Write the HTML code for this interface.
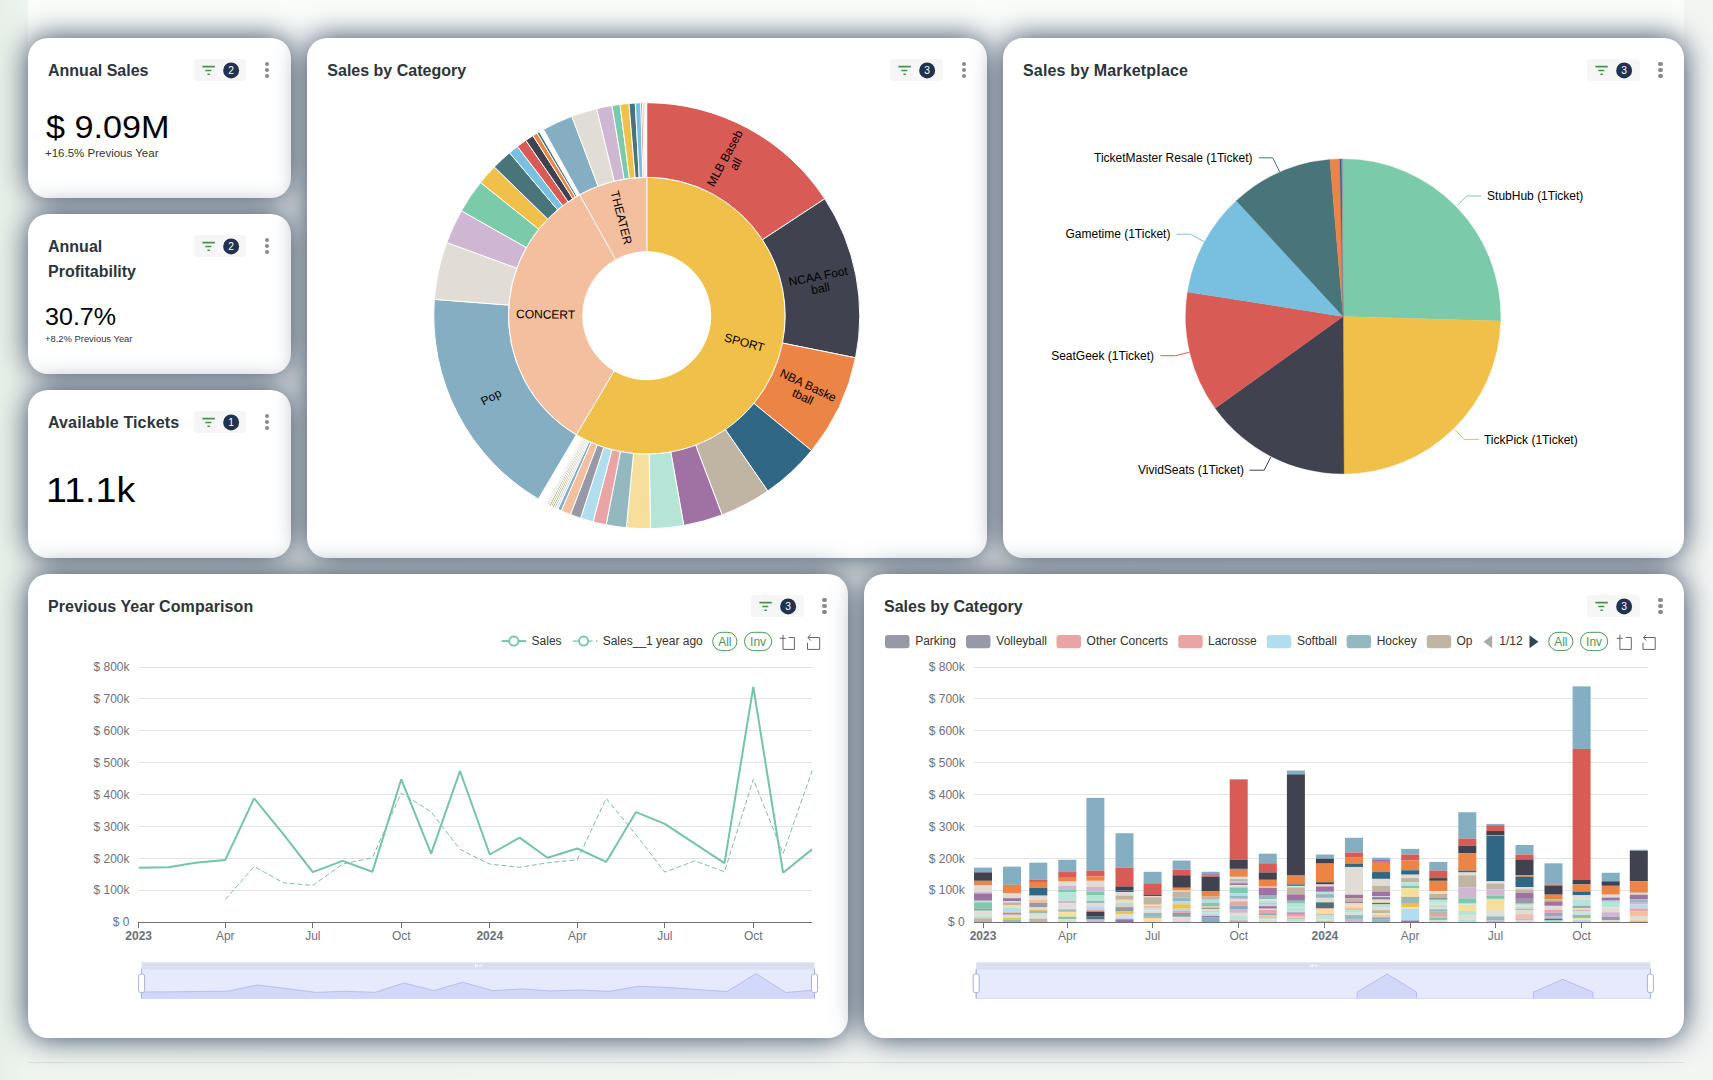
<!DOCTYPE html>
<html lang="en"><head><meta charset="utf-8"><title>Ticket Sales Dashboard</title>
<style>
*{box-sizing:border-box;margin:0;padding:0}
html,body{width:1713px;height:1080px;overflow:hidden}
body{position:relative;font-family:"Liberation Sans",sans-serif;color:#2a2f35;
 background:linear-gradient(90deg,#e7f0e8 0px,#eff4ef 28px,#f2f5f2 800px,#f3f5f3 1684px,#f3f5f3 100%);}
#wrap{position:absolute;left:28px;top:0;width:1656px;height:1063px;border-bottom:1px solid #dde2dd}
#topband{position:absolute;left:0;top:0;width:1656px;height:80px;background:linear-gradient(180deg,#fafcfa 0,#fafcfa 36px,rgba(250,252,250,0) 80px)}
.card{position:absolute;background:#fff;border-radius:20px;
 box-shadow:0 0 30px #30415a;}
.ttl{position:absolute;left:20px;top:20.3px;font-weight:700;font-size:16px;line-height:25px;color:#2e343b;white-space:nowrap;transform-origin:0 50%}
.badge{position:absolute;right:44.5px;top:20.6px;width:52.5px;height:22.7px;border-radius:4px;background:#f6f6f6}
.badge svg{position:absolute;left:0;top:0}
.dots{position:absolute;right:21.4px;top:24px;width:4.2px;height:17px}
.dots i{position:absolute;left:0;width:4.2px;height:4.2px;border-radius:50%;background:#8a8a8a}
.big{position:absolute;color:#000;white-space:nowrap;transform-origin:0 100%}
.sub{position:absolute;color:#333;white-space:nowrap;transform-origin:0 100%}
svg text{font-family:"Liberation Sans",sans-serif}
svg.chart{position:absolute;left:0;top:0;overflow:visible}
</style></head>
<body><div id="wrap"><div id="topband"></div>
<div class="card" id="c1" style="left:0.00px;top:38px;width:262.67px;height:159.5px"><div class="ttl" style="">Annual Sales</div><div class="badge"><svg width="53" height="23" viewBox="0 0 52.5 22.7">
<g stroke="#419546" stroke-width="1.6" stroke-linecap="butt"><path d="M8.3 7.5H20.6M11.2 11.3H17.1M13.3 15.1H15.7"/></g>
<circle cx="36.8" cy="11.3" r="7.9" fill="#1f3350"/>
<text x="36.8" y="14.9" font-size="10.2" fill="#fff" text-anchor="middle">2</text></svg></div>
<div class="dots"><i style="top:0"></i><i style="top:6px"></i><i style="top:12px"></i></div><div class="big" id="b1" style="left:17.5px;top:71.6px;font-size:31px;line-height:36px;transform:scaleX(1.103)">$ 9.09M</div><div class="sub" id="s1" style="left:17px;top:108px;font-size:10.5px;line-height:14px;transform:scaleX(1.095)">+16.5% Previous Year</div></div>
<div class="card" id="c2" style="left:0.00px;top:214px;width:262.67px;height:159.7px"><div class="ttl" style="">Annual<br>Profitability</div><div class="badge"><svg width="53" height="23" viewBox="0 0 52.5 22.7">
<g stroke="#419546" stroke-width="1.6" stroke-linecap="butt"><path d="M8.3 7.5H20.6M11.2 11.3H17.1M13.3 15.1H15.7"/></g>
<circle cx="36.8" cy="11.3" r="7.9" fill="#1f3350"/>
<text x="36.8" y="14.9" font-size="10.2" fill="#fff" text-anchor="middle">2</text></svg></div>
<div class="dots"><i style="top:0"></i><i style="top:6px"></i><i style="top:12px"></i></div><div class="big" id="b2" style="left:17px;top:87.7px;font-size:23px;line-height:30px;transform:scaleX(1.09)">30.7%</div><div class="sub" id="s2" style="left:16.5px;top:119px;font-size:8.5px;line-height:12px;transform:scaleX(1.105)">+8.2% Previous Year</div></div>
<div class="card" id="c3" style="left:0.00px;top:390px;width:262.67px;height:167.5px"><div class="ttl" style="letter-spacing:.13px">Available Tickets</div><div class="badge"><svg width="53" height="23" viewBox="0 0 52.5 22.7">
<g stroke="#419546" stroke-width="1.6" stroke-linecap="butt"><path d="M8.3 7.5H20.6M11.2 11.3H17.1M13.3 15.1H15.7"/></g>
<circle cx="36.8" cy="11.3" r="7.9" fill="#1f3350"/>
<text x="36.8" y="14.9" font-size="10.2" fill="#fff" text-anchor="middle">1</text></svg></div>
<div class="dots"><i style="top:0"></i><i style="top:6px"></i><i style="top:12px"></i></div><div class="big" id="b3" style="left:18px;top:79.6px;font-size:35px;line-height:40px;transform:scaleX(1.075)">11.1k</div></div>
<div class="card" id="c4" style="left:279.33px;top:38px;width:680px;height:519.5px"><div class="ttl" style="">Sales by Category</div><div class="badge"><svg width="53" height="23" viewBox="0 0 52.5 22.7">
<g stroke="#419546" stroke-width="1.6" stroke-linecap="butt"><path d="M8.3 7.5H20.6M11.2 11.3H17.1M13.3 15.1H15.7"/></g>
<circle cx="36.8" cy="11.3" r="7.9" fill="#1f3350"/>
<text x="36.8" y="14.9" font-size="10.2" fill="#fff" text-anchor="middle">3</text></svg></div>
<div class="dots"><i style="top:0"></i><i style="top:6px"></i><i style="top:12px"></i></div><svg class="chart" width="680" height="519.5" viewBox="0 0 680 519.5"><path d="M339.77 139.30A138.4 138.4 0 1 1 269.32 396.83L307.19 332.79A64.0 64.0 0 1 0 339.77 213.70Z" fill="#f0c049" stroke="#fff" stroke-width="1"/>
<path d="M269.32 396.83A138.4 138.4 0 0 1 272.67 156.65L308.74 221.72A64.0 64.0 0 0 0 307.19 332.79Z" fill="#f4bf9e" stroke="#fff" stroke-width="1"/>
<path d="M272.67 156.65A138.4 138.4 0 0 1 339.77 139.30L339.77 213.70A64.0 64.0 0 0 0 308.74 221.72Z" fill="#f4bf9e" stroke="#fff" stroke-width="1"/>
<path d="M339.77 64.70A213.0 213.0 0 0 1 517.80 160.76L455.45 201.72A138.4 138.4 0 0 0 339.77 139.30Z" fill="#d95b55" stroke="#fff" stroke-width="1"/>
<path d="M517.80 160.76A213.0 213.0 0 0 1 548.57 319.80L475.44 305.06A138.4 138.4 0 0 0 455.45 201.72Z" fill="#40424f" stroke="#fff" stroke-width="1"/>
<path d="M548.57 319.80A213.0 213.0 0 0 1 504.60 412.61L446.87 365.36A138.4 138.4 0 0 0 475.44 305.06Z" fill="#eb8445" stroke="#fff" stroke-width="1"/>
<path d="M504.60 412.61A213.0 213.0 0 0 1 460.72 453.03L418.36 391.62A138.4 138.4 0 0 0 446.87 365.36Z" fill="#2f6785" stroke="#fff" stroke-width="1"/>
<path d="M460.72 453.03A213.0 213.0 0 0 1 415.06 476.95L388.69 407.17A138.4 138.4 0 0 0 418.36 391.62Z" fill="#c0b5a3" stroke="#fff" stroke-width="1"/>
<path d="M415.06 476.95A213.0 213.0 0 0 1 376.76 487.46L363.80 414.00A138.4 138.4 0 0 0 388.69 407.17Z" fill="#a072a4" stroke="#fff" stroke-width="1"/>
<path d="M376.76 487.46A213.0 213.0 0 0 1 343.49 490.67L342.19 416.08A138.4 138.4 0 0 0 363.80 414.00Z" fill="#b5e5d7" stroke="#fff" stroke-width="1"/>
<path d="M343.49 490.67A213.0 213.0 0 0 1 319.35 489.72L326.50 415.46A138.4 138.4 0 0 0 342.19 416.08Z" fill="#f6df9d" stroke="#fff" stroke-width="1"/>
<path d="M319.35 489.72A213.0 213.0 0 0 1 299.13 486.79L313.36 413.56A138.4 138.4 0 0 0 326.50 415.46Z" fill="#94b8bf" stroke="#fff" stroke-width="1"/>
<path d="M299.13 486.79A213.0 213.0 0 0 1 286.08 483.82L304.88 411.63A138.4 138.4 0 0 0 313.36 413.56Z" fill="#e9a4a5" stroke="#fff" stroke-width="1"/>
<path d="M286.08 483.82A213.0 213.0 0 0 1 273.60 480.16L296.77 409.25A138.4 138.4 0 0 0 304.88 411.63Z" fill="#b1deee" stroke="#fff" stroke-width="1"/>
<path d="M273.60 480.16A213.0 213.0 0 0 1 263.44 476.55L290.17 406.91A138.4 138.4 0 0 0 296.77 409.25Z" fill="#979aa6" stroke="#fff" stroke-width="1"/>
<path d="M263.44 476.55A213.0 213.0 0 0 1 254.16 472.74L284.14 404.43A138.4 138.4 0 0 0 290.17 406.91Z" fill="#f4bf9e" stroke="#fff" stroke-width="1"/>
<path d="M254.16 472.74A213.0 213.0 0 0 1 250.76 471.21L281.94 403.44A138.4 138.4 0 0 0 284.14 404.43Z" fill="#84aec1" stroke="#fff" stroke-width="1"/>
<path d="M250.76 471.21A213.0 213.0 0 0 1 248.74 470.27L280.62 402.83A138.4 138.4 0 0 0 281.94 403.44Z" fill="#e1ddd5" stroke="#fff" stroke-width="1"/>
<path d="M248.74 470.27A213.0 213.0 0 0 1 247.07 469.47L279.53 402.30A138.4 138.4 0 0 0 280.62 402.83Z" fill="#cfb6d2" stroke="#fff" stroke-width="1"/>
<path d="M247.07 469.47A213.0 213.0 0 0 1 245.40 468.65L278.45 401.77A138.4 138.4 0 0 0 279.53 402.30Z" fill="#7bcbab" stroke="#fff" stroke-width="1"/>
<path d="M245.40 468.65A213.0 213.0 0 0 1 243.73 467.82L277.37 401.23A138.4 138.4 0 0 0 278.45 401.77Z" fill="#f0c049" stroke="#fff" stroke-width="1"/>
<path d="M243.73 467.82A213.0 213.0 0 0 1 242.41 467.15L276.51 400.80A138.4 138.4 0 0 0 277.37 401.23Z" fill="#487579" stroke="#fff" stroke-width="1"/>
<path d="M242.41 467.15A213.0 213.0 0 0 1 241.42 466.63L275.86 400.46A138.4 138.4 0 0 0 276.51 400.80Z" fill="#79bfdf" stroke="#fff" stroke-width="1"/>
<path d="M241.42 466.63A213.0 213.0 0 0 1 240.43 466.12L275.22 400.13A138.4 138.4 0 0 0 275.86 400.46Z" fill="#d95b55" stroke="#fff" stroke-width="1"/>
<path d="M240.43 466.12A213.0 213.0 0 0 1 239.77 465.77L274.80 399.90A138.4 138.4 0 0 0 275.22 400.13Z" fill="#40424f" stroke="#fff" stroke-width="1"/>
<path d="M239.77 465.77A213.0 213.0 0 0 1 239.12 465.42L274.37 399.67A138.4 138.4 0 0 0 274.80 399.90Z" fill="#eb8445" stroke="#fff" stroke-width="1"/>
<path d="M231.34 461.04A213.0 213.0 0 0 1 127.40 261.36L201.78 267.08A138.4 138.4 0 0 0 269.32 396.83Z" fill="#84aec1" stroke="#fff" stroke-width="1"/>
<path d="M127.40 261.36A213.0 213.0 0 0 1 139.74 204.50L209.80 230.14A138.4 138.4 0 0 0 201.78 267.08Z" fill="#e1ddd5" stroke="#fff" stroke-width="1"/>
<path d="M139.74 204.50A213.0 213.0 0 0 1 154.38 172.81L219.31 209.55A138.4 138.4 0 0 0 209.80 230.14Z" fill="#cfb6d2" stroke="#fff" stroke-width="1"/>
<path d="M154.38 172.81A213.0 213.0 0 0 1 173.54 144.52L231.76 191.17A138.4 138.4 0 0 0 219.31 209.55Z" fill="#7bcbab" stroke="#fff" stroke-width="1"/>
<path d="M173.54 144.52A213.0 213.0 0 0 1 187.33 128.94L240.72 181.04A138.4 138.4 0 0 0 231.76 191.17Z" fill="#f0c049" stroke="#fff" stroke-width="1"/>
<path d="M187.33 128.94A213.0 213.0 0 0 1 202.57 114.77L250.62 171.83A138.4 138.4 0 0 0 240.72 181.04Z" fill="#487579" stroke="#fff" stroke-width="1"/>
<path d="M202.57 114.77A213.0 213.0 0 0 1 210.40 108.49L255.71 167.75A138.4 138.4 0 0 0 250.62 171.83Z" fill="#79bfdf" stroke="#fff" stroke-width="1"/>
<path d="M210.40 108.49A213.0 213.0 0 0 1 218.82 102.37L261.18 163.78A138.4 138.4 0 0 0 255.71 167.75Z" fill="#d95b55" stroke="#fff" stroke-width="1"/>
<path d="M218.82 102.37A213.0 213.0 0 0 1 225.95 97.66L265.82 160.72A138.4 138.4 0 0 0 261.18 163.78Z" fill="#40424f" stroke="#fff" stroke-width="1"/>
<path d="M225.95 97.66A213.0 213.0 0 0 1 230.07 95.12L268.49 159.07A138.4 138.4 0 0 0 265.82 160.72Z" fill="#eb8445" stroke="#fff" stroke-width="1"/>
<path d="M230.07 95.12A213.0 213.0 0 0 1 232.31 93.80L269.94 158.21A138.4 138.4 0 0 0 268.49 159.07Z" fill="#487579" stroke="#fff" stroke-width="1"/>
<path d="M236.51 91.41A213.0 213.0 0 0 1 264.83 78.32L291.08 148.15A138.4 138.4 0 0 0 272.67 156.65Z" fill="#84aec1" stroke="#fff" stroke-width="1"/>
<path d="M264.83 78.32A213.0 213.0 0 0 1 289.68 70.67L307.23 143.18A138.4 138.4 0 0 0 291.08 148.15Z" fill="#e1ddd5" stroke="#fff" stroke-width="1"/>
<path d="M289.68 70.67A213.0 213.0 0 0 1 304.98 67.56L317.17 141.16A138.4 138.4 0 0 0 307.23 143.18Z" fill="#cfb6d2" stroke="#fff" stroke-width="1"/>
<path d="M304.98 67.56A213.0 213.0 0 0 1 313.07 66.38L322.42 140.39A138.4 138.4 0 0 0 317.17 141.16Z" fill="#7bcbab" stroke="#fff" stroke-width="1"/>
<path d="M313.07 66.38A213.0 213.0 0 0 1 321.95 65.45L328.19 139.79A138.4 138.4 0 0 0 322.42 140.39Z" fill="#f0c049" stroke="#fff" stroke-width="1"/>
<path d="M321.95 65.45A213.0 213.0 0 0 1 328.25 65.01L332.29 139.50A138.4 138.4 0 0 0 328.19 139.79Z" fill="#487579" stroke="#fff" stroke-width="1"/>
<path d="M328.25 65.01A213.0 213.0 0 0 1 333.82 64.78L335.91 139.35A138.4 138.4 0 0 0 332.29 139.50Z" fill="#79bfdf" stroke="#fff" stroke-width="1"/>
<path d="M333.82 64.78A213.0 213.0 0 0 1 335.68 64.74L337.11 139.33A138.4 138.4 0 0 0 335.91 139.35Z" fill="#d95b55" stroke="#fff" stroke-width="1"/>
<path d="M335.68 64.74A213.0 213.0 0 0 1 337.17 64.72L338.08 139.31A138.4 138.4 0 0 0 337.11 139.33Z" fill="#e9a4a5" stroke="#fff" stroke-width="1"/>
<path d="M337.17 64.72A213.0 213.0 0 0 1 338.28 64.71L338.80 139.30A138.4 138.4 0 0 0 338.08 139.31Z" fill="#eb8445" stroke="#fff" stroke-width="1"/>
<g transform="translate(437.38 304.40) rotate(15.30)"><text x="0" y="4.20" font-size="12" text-anchor="middle" fill="#000">SPORT</text></g>
<g transform="translate(238.58 276.29) rotate(0.80)"><text x="0" y="4.20" font-size="12" text-anchor="middle" fill="#000">CONCERT</text></g>
<g transform="translate(314.43 179.72) rotate(75.50)"><text x="0" y="4.20" font-size="12" text-anchor="middle" fill="#000">THEATER</text></g>
<g transform="translate(423.20 123.07) rotate(-61.65)"><text x="0" y="-2.05" font-size="12" text-anchor="middle" fill="#000">MLB Baseb</text><text x="0" y="10.45" font-size="12" text-anchor="middle" fill="#000">all</text></g>
<g transform="translate(512.27 244.33) rotate(-10.95)"><text x="0" y="-2.05" font-size="12" text-anchor="middle" fill="#000">NCAA Foot</text><text x="0" y="10.45" font-size="12" text-anchor="middle" fill="#000">ball</text></g>
<g transform="translate(498.55 352.93) rotate(25.35)"><text x="0" y="-2.05" font-size="12" text-anchor="middle" fill="#000">NBA Baske</text><text x="0" y="10.45" font-size="12" text-anchor="middle" fill="#000">tball</text></g>
<g transform="translate(183.99 358.97) rotate(-27.55)"><text x="0" y="4.20" font-size="12" text-anchor="middle" fill="#000">Pop</text></g></svg></div>
<div class="card" id="c5" style="left:975.00px;top:38px;width:681px;height:519.5px"><div class="ttl" style="letter-spacing:.16px">Sales by Marketplace</div><div class="badge"><svg width="53" height="23" viewBox="0 0 52.5 22.7">
<g stroke="#419546" stroke-width="1.6" stroke-linecap="butt"><path d="M8.3 7.5H20.6M11.2 11.3H17.1M13.3 15.1H15.7"/></g>
<circle cx="36.8" cy="11.3" r="7.9" fill="#1f3350"/>
<text x="36.8" y="14.9" font-size="10.2" fill="#fff" text-anchor="middle">3</text></svg></div>
<div class="dots"><i style="top:0"></i><i style="top:6px"></i><i style="top:12px"></i></div><svg class="chart" width="681" height="519.5" viewBox="0 0 681 519.5"><path d="M340.10 278.40L340.10 120.95A157.45 157.45 0 0 1 497.48 283.07Z" fill="#7bcbab" stroke="#7bcbab" stroke-width="0.3"/>
<path d="M340.10 278.40L497.48 283.07A157.45 157.45 0 0 1 340.92 435.85Z" fill="#f0c049" stroke="#f0c049" stroke-width="0.3"/>
<path d="M340.10 278.40L340.92 435.85A157.45 157.45 0 0 1 212.24 370.28Z" fill="#40424f" stroke="#40424f" stroke-width="0.3"/>
<path d="M340.10 278.40L212.24 370.28A157.45 157.45 0 0 1 184.55 254.04Z" fill="#d95b55" stroke="#d95b55" stroke-width="0.3"/>
<path d="M340.10 278.40L184.55 254.04A157.45 157.45 0 0 1 233.32 162.69Z" fill="#79bfdf" stroke="#79bfdf" stroke-width="0.3"/>
<path d="M340.10 278.40L233.32 162.69A157.45 157.45 0 0 1 326.92 121.50Z" fill="#487579" stroke="#487579" stroke-width="0.3"/>
<path d="M340.10 278.40L326.92 121.50A157.45 157.45 0 0 1 336.80 120.98Z" fill="#eb8445" stroke="#eb8445" stroke-width="0.3"/>
<path d="M340.10 278.40L336.80 120.98A157.45 157.45 0 0 1 338.73 120.96Z" fill="#2f6785" stroke="#2f6785" stroke-width="0.3"/>
<path d="M340.10 278.40L338.73 120.96A157.45 157.45 0 0 1 340.10 120.95Z" fill="#979aa6" stroke="#979aa6" stroke-width="0.3"/>
<path d="M454.0 167.7L463.7 158.0L478.3 158.0" fill="none" stroke="#7bcbab" stroke-width="1"/>
<text x="484.1" y="162.2" font-size="12" text-anchor="start" fill="#000">StubHub (1Ticket)</text>
<path d="M451.7 391.3L461.1 401.4L476.0 401.4" fill="none" stroke="#f0c049" stroke-width="1"/>
<text x="480.9" y="405.6" font-size="12" text-anchor="start" fill="#000">TickPick (1Ticket)</text>
<path d="M267.7 419.2L261.2 432.2L246.6 432.2" fill="none" stroke="#40424f" stroke-width="1"/>
<text x="241.1" y="436.4" font-size="12" text-anchor="end" fill="#000">VividSeats (1Ticket)</text>
<path d="M186.3 314.3L172.4 317.7L157.4 317.7" fill="none" stroke="#d95b55" stroke-width="1"/>
<text x="151.1" y="321.9" font-size="12" text-anchor="end" fill="#000">SeatGeek (1Ticket)</text>
<path d="M201.4 203.8L187.5 196.2L173.6 196.2" fill="none" stroke="#79bfdf" stroke-width="1"/>
<text x="167.4" y="200.4" font-size="12" text-anchor="end" fill="#000">Gametime (1Ticket)</text>
<path d="M276.6 133.7L269.7 119.8L255.8 119.8" fill="none" stroke="#487579" stroke-width="1"/>
<text x="249.5" y="124.0" font-size="12" text-anchor="end" fill="#000">TicketMaster Resale (1Ticket)</text></svg></div>
<div class="card" id="c6" style="left:0.00px;top:574px;width:820px;height:464px"><div class="ttl" style="letter-spacing:.08px">Previous Year Comparison</div><div class="badge"><svg width="53" height="23" viewBox="0 0 52.5 22.7">
<g stroke="#419546" stroke-width="1.6" stroke-linecap="butt"><path d="M8.3 7.5H20.6M11.2 11.3H17.1M13.3 15.1H15.7"/></g>
<circle cx="36.8" cy="11.3" r="7.9" fill="#1f3350"/>
<text x="36.8" y="14.9" font-size="10.2" fill="#fff" text-anchor="middle">3</text></svg></div>
<div class="dots"><i style="top:0"></i><i style="top:6px"></i><i style="top:12px"></i></div><svg class="chart" width="820" height="464" viewBox="0 0 820 464"><text x="101.5" y="352.30" font-size="12" text-anchor="end" fill="#6e7079">$ 0</text>
<path d="M110.7 316.50H784.0" stroke="#e1e3e8" stroke-width="1"/>
<text x="101.5" y="320.43" font-size="12" text-anchor="end" fill="#6e7079">$ 100k</text>
<path d="M110.7 284.50H784.0" stroke="#e1e3e8" stroke-width="1"/>
<text x="101.5" y="288.55" font-size="12" text-anchor="end" fill="#6e7079">$ 200k</text>
<path d="M110.7 252.50H784.0" stroke="#e1e3e8" stroke-width="1"/>
<text x="101.5" y="256.68" font-size="12" text-anchor="end" fill="#6e7079">$ 300k</text>
<path d="M110.7 220.50H784.0" stroke="#e1e3e8" stroke-width="1"/>
<text x="101.5" y="224.80" font-size="12" text-anchor="end" fill="#6e7079">$ 400k</text>
<path d="M110.7 188.50H784.0" stroke="#e1e3e8" stroke-width="1"/>
<text x="101.5" y="192.93" font-size="12" text-anchor="end" fill="#6e7079">$ 500k</text>
<path d="M110.7 156.50H784.0" stroke="#e1e3e8" stroke-width="1"/>
<text x="101.5" y="161.05" font-size="12" text-anchor="end" fill="#6e7079">$ 600k</text>
<path d="M110.7 124.50H784.0" stroke="#e1e3e8" stroke-width="1"/>
<text x="101.5" y="129.18" font-size="12" text-anchor="end" fill="#6e7079">$ 700k</text>
<path d="M110.7 93.50H784.0" stroke="#e1e3e8" stroke-width="1"/>
<text x="101.5" y="97.30" font-size="12" text-anchor="end" fill="#6e7079">$ 800k</text>
<path d="M110.0 348.50H784.0" stroke="#6e7079" stroke-width="1"/>
<path d="M110.50 348.50v5.5" stroke="#6e7079" stroke-width="1"/>
<text x="110.70" y="366.40" font-size="12" text-anchor="middle" fill="#6e7079" font-weight="700">2023</text>
<path d="M197.50 348.50v5.5" stroke="#6e7079" stroke-width="1"/>
<text x="197.27" y="366.40" font-size="12" text-anchor="middle" fill="#6e7079">Apr</text>
<path d="M284.50 348.50v5.5" stroke="#6e7079" stroke-width="1"/>
<text x="284.80" y="366.40" font-size="12" text-anchor="middle" fill="#6e7079">Jul</text>
<path d="M373.50 348.50v5.5" stroke="#6e7079" stroke-width="1"/>
<text x="373.29" y="366.40" font-size="12" text-anchor="middle" fill="#6e7079">Oct</text>
<path d="M461.50 348.50v5.5" stroke="#6e7079" stroke-width="1"/>
<text x="461.78" y="366.40" font-size="12" text-anchor="middle" fill="#6e7079" font-weight="700">2024</text>
<path d="M549.50 348.50v5.5" stroke="#6e7079" stroke-width="1"/>
<text x="549.31" y="366.40" font-size="12" text-anchor="middle" fill="#6e7079">Apr</text>
<path d="M636.50 348.50v5.5" stroke="#6e7079" stroke-width="1"/>
<text x="636.84" y="366.40" font-size="12" text-anchor="middle" fill="#6e7079">Jul</text>
<path d="M725.50 348.50v5.5" stroke="#6e7079" stroke-width="1"/>
<text x="725.33" y="366.40" font-size="12" text-anchor="middle" fill="#6e7079">Oct</text>
<path d="M197.3 325.5L226.1 292.6L255.9 308.9L284.8 311.4L314.6 290.1L344.4 283.7L373.3 219.0L403.1 237.8L432.0 275.4L461.8 290.1L491.6 293.3L519.5 288.8L549.3 285.9L578.2 224.4L608.0 260.8L636.8 298.1L666.7 286.9L696.5 297.7L725.3 205.3L755.1 279.6L784.0 197.0" fill="none" stroke="#7fbfa8" stroke-width="1" stroke-dasharray="5 2.6" stroke-linejoin="bevel"/>
<path d="M110.7 293.7L140.5 293.3L167.4 288.8L197.3 285.9L226.1 224.4L255.9 260.8L284.8 298.1L314.6 286.9L344.4 297.7L373.3 205.3L403.1 279.6L432.0 197.0L461.8 280.5L491.6 263.6L519.5 283.7L549.3 274.5L578.2 287.9L608.0 238.1L636.8 249.9L666.7 269.7L696.5 289.1L725.3 112.9L755.1 298.7L784.0 275.4" fill="none" stroke="#74c4a6" stroke-width="2" stroke-linejoin="bevel"/>
<path d="M473.6 67.1H498.1" stroke="#74c4a6" stroke-width="2"/>
<circle cx="485.8" cy="67.1" r="4.6" fill="#fff" stroke="#74c4a6" stroke-width="1.8"/>
<text x="503.6" y="71.3" font-size="12" fill="#333">Sales</text>
<path d="M545.0 67.1H569.5" stroke="#74c4a6" stroke-width="1.4" stroke-dasharray="5 3.5 11 3.5 5"/>
<circle cx="555.6" cy="67.1" r="4.6" fill="#fff" stroke="#74c4a6" stroke-width="1.8"/>
<text x="574.7" y="71.3" font-size="12" fill="#333">Sales__1 year ago</text>
<rect x="684.7" y="58.3" width="24.2" height="18.3" rx="9.15" fill="#fff" stroke="#4a9a52" stroke-width="1"/>
<text x="696.8" y="71.7" font-size="12" text-anchor="middle" fill="#4a9a52">All</text>
<rect x="716.5" y="58.3" width="27.2" height="18.3" rx="9.15" fill="#fff" stroke="#4a9a52" stroke-width="1"/>
<text x="730.1" y="71.7" font-size="12" text-anchor="middle" fill="#4a9a52">Inv</text>
<path d="M755.0 60.7V75.4H766.4V63.5H760.7M751.7 64.3H757.8" fill="none" stroke="#666" stroke-width="1"/>
<path d="M782.8 60.7L779.9 63.5L782.8 66.6M779.9 63.5H791.7V75.4H779.5V68.8" fill="none" stroke="#666" stroke-width="1"/>
<rect x="113.6" y="394.9" width="672.9" height="29.5" fill="#e7eafc"/>
<path d="M113.6 424.4L113.6 418.0L143.4 417.9L170.3 417.5L200.1 417.2L229.0 411.0L258.8 414.6L287.6 418.4L317.4 417.3L347.2 418.4L376.0 409.0L405.8 416.6L434.7 408.2L464.5 416.7L494.3 414.9L522.1 417.0L551.9 416.0L580.8 417.4L610.6 412.3L639.4 413.5L669.2 415.6L699.0 417.5L727.9 399.6L757.7 418.5L786.5 416.1L786.5 424.4Z" fill="#d1d8f9" stroke="none"/>
<path d="M113.6 424.4L113.6 418.0L143.4 417.9L170.3 417.5L200.1 417.2L229.0 411.0L258.8 414.6L287.6 418.4L317.4 417.3L347.2 418.4L376.0 409.0L405.8 416.6L434.7 408.2L464.5 416.7L494.3 414.9L522.1 417.0L551.9 416.0L580.8 417.4L610.6 412.3L639.4 413.5L669.2 415.6L699.0 417.5L727.9 399.6L757.7 418.5L786.5 416.1L786.5 424.4" fill="none" stroke="#b6beec" stroke-width="1" stroke-linejoin="round"/>
<rect x="113.6" y="394.9" width="672.9" height="29.5" fill="none" stroke="#d5d9f3" stroke-width="1"/>
<rect x="113.6" y="388.3" width="672.9" height="6.6" fill="#dadef0"/>
<path d="M447.6 390.5v2.4M449.2 390.5v2.4M451.1 391.7h3" stroke="#fff" stroke-width="1" fill="none"/>
<path d="M113.6 394.9V424.4" stroke="#a9b2d2" stroke-width="1"/>
<rect x="110.6" y="400.0" width="6" height="18.6" rx="2" fill="#fff" stroke="#a9b2d2" stroke-width="1"/>
<path d="M786.5 394.9V424.4" stroke="#a9b2d2" stroke-width="1"/>
<rect x="783.5" y="400.0" width="6" height="18.6" rx="2" fill="#fff" stroke="#a9b2d2" stroke-width="1"/></svg></div>
<div class="card" id="c7" style="left:836.00px;top:574px;width:820px;height:464px"><div class="ttl" style="">Sales by Category</div><div class="badge"><svg width="53" height="23" viewBox="0 0 52.5 22.7">
<g stroke="#419546" stroke-width="1.6" stroke-linecap="butt"><path d="M8.3 7.5H20.6M11.2 11.3H17.1M13.3 15.1H15.7"/></g>
<circle cx="36.8" cy="11.3" r="7.9" fill="#1f3350"/>
<text x="36.8" y="14.9" font-size="10.2" fill="#fff" text-anchor="middle">3</text></svg></div>
<div class="dots"><i style="top:0"></i><i style="top:6px"></i><i style="top:12px"></i></div><svg class="chart" width="820" height="464" viewBox="0 0 820 464"><text x="100.8" y="352.30" font-size="12" text-anchor="end" fill="#6e7079">$ 0</text>
<path d="M110.0 316.50H783.8" stroke="#e1e3e8" stroke-width="1"/>
<text x="100.8" y="320.43" font-size="12" text-anchor="end" fill="#6e7079">$ 100k</text>
<path d="M110.0 284.50H783.8" stroke="#e1e3e8" stroke-width="1"/>
<text x="100.8" y="288.55" font-size="12" text-anchor="end" fill="#6e7079">$ 200k</text>
<path d="M110.0 252.50H783.8" stroke="#e1e3e8" stroke-width="1"/>
<text x="100.8" y="256.68" font-size="12" text-anchor="end" fill="#6e7079">$ 300k</text>
<path d="M110.0 220.50H783.8" stroke="#e1e3e8" stroke-width="1"/>
<text x="100.8" y="224.80" font-size="12" text-anchor="end" fill="#6e7079">$ 400k</text>
<path d="M110.0 188.50H783.8" stroke="#e1e3e8" stroke-width="1"/>
<text x="100.8" y="192.93" font-size="12" text-anchor="end" fill="#6e7079">$ 500k</text>
<path d="M110.0 156.50H783.8" stroke="#e1e3e8" stroke-width="1"/>
<text x="100.8" y="161.05" font-size="12" text-anchor="end" fill="#6e7079">$ 600k</text>
<path d="M110.0 124.50H783.8" stroke="#e1e3e8" stroke-width="1"/>
<text x="100.8" y="129.18" font-size="12" text-anchor="end" fill="#6e7079">$ 700k</text>
<path d="M110.0 93.50H783.8" stroke="#e1e3e8" stroke-width="1"/>
<text x="100.8" y="97.30" font-size="12" text-anchor="end" fill="#6e7079">$ 800k</text>
<rect x="110.0" y="293.59" width="18.0" height="4.78" fill="#84aec1"/>
<rect x="110.0" y="298.38" width="18.0" height="8.45" fill="#40424f"/>
<rect x="110.0" y="306.82" width="18.0" height="4.62" fill="#eb8445"/>
<rect x="110.0" y="311.44" width="18.0" height="6.69" fill="#e1ddd5"/>
<rect x="110.0" y="318.14" width="18.0" height="1.27" fill="#cfb6d2"/>
<rect x="110.0" y="319.41" width="18.0" height="7.33" fill="#a072a4"/>
<rect x="110.0" y="326.74" width="18.0" height="1.59" fill="#b5e5d7"/>
<rect x="110.0" y="328.34" width="18.0" height="6.38" fill="#7bcbab"/>
<rect x="110.0" y="334.71" width="18.0" height="1.59" fill="#979aa6"/>
<rect x="110.0" y="336.31" width="18.0" height="0.96" fill="#94b8bf"/>
<rect x="110.0" y="337.26" width="18.0" height="4.46" fill="#e1ddd5"/>
<rect x="110.0" y="341.73" width="18.0" height="2.55" fill="#b5e5d7"/>
<rect x="110.0" y="344.27" width="18.0" height="3.83" fill="#c0b5a3"/>
<rect x="139.0" y="292.64" width="18.0" height="18.17" fill="#84aec1"/>
<rect x="139.0" y="310.81" width="18.0" height="8.61" fill="#eb8445"/>
<rect x="139.0" y="319.41" width="18.0" height="4.78" fill="#e1ddd5"/>
<rect x="139.0" y="324.19" width="18.0" height="2.87" fill="#a072a4"/>
<rect x="139.0" y="327.06" width="18.0" height="1.27" fill="#e1ddd5"/>
<rect x="139.0" y="328.34" width="18.0" height="3.19" fill="#c0b5a3"/>
<rect x="139.0" y="331.52" width="18.0" height="1.91" fill="#f6df9d"/>
<rect x="139.0" y="333.44" width="18.0" height="4.46" fill="#b1deee"/>
<rect x="139.0" y="337.90" width="18.0" height="0.96" fill="#f4bf9e"/>
<rect x="139.0" y="338.86" width="18.0" height="1.91" fill="#979aa6"/>
<rect x="139.0" y="340.77" width="18.0" height="3.19" fill="#e1ddd5"/>
<rect x="139.0" y="343.96" width="18.0" height="1.91" fill="#f0c049"/>
<rect x="139.0" y="345.87" width="18.0" height="2.23" fill="#94b8bf"/>
<rect x="165.3" y="288.65" width="18.0" height="17.15" fill="#84aec1"/>
<rect x="165.3" y="305.80" width="18.0" height="2.14" fill="#d95b55"/>
<rect x="165.3" y="307.94" width="18.0" height="5.83" fill="#eb8445"/>
<rect x="165.3" y="313.77" width="18.0" height="7.87" fill="#2f6785"/>
<rect x="165.3" y="321.64" width="18.0" height="4.14" fill="#e1ddd5"/>
<rect x="165.3" y="325.79" width="18.0" height="3.19" fill="#f4bf9e"/>
<rect x="165.3" y="328.98" width="18.0" height="4.46" fill="#979aa6"/>
<rect x="165.3" y="333.44" width="18.0" height="2.23" fill="#e1ddd5"/>
<rect x="165.3" y="335.67" width="18.0" height="1.27" fill="#f0c049"/>
<rect x="165.3" y="336.94" width="18.0" height="2.55" fill="#94b8bf"/>
<rect x="165.3" y="339.49" width="18.0" height="4.46" fill="#e1ddd5"/>
<rect x="165.3" y="343.96" width="18.0" height="0.96" fill="#b5e5d7"/>
<rect x="165.3" y="344.91" width="18.0" height="3.19" fill="#c0b5a3"/>
<rect x="194.3" y="285.78" width="18.0" height="12.27" fill="#84aec1"/>
<rect x="194.3" y="298.06" width="18.0" height="5.74" fill="#d95b55"/>
<rect x="194.3" y="303.79" width="18.0" height="3.82" fill="#eb8445"/>
<rect x="194.3" y="307.62" width="18.0" height="4.14" fill="#e1ddd5"/>
<rect x="194.3" y="311.76" width="18.0" height="3.67" fill="#cfb6d2"/>
<rect x="194.3" y="315.43" width="18.0" height="2.71" fill="#7bcbab"/>
<rect x="194.3" y="318.14" width="18.0" height="8.61" fill="#b5e5d7"/>
<rect x="194.3" y="326.74" width="18.0" height="2.55" fill="#cfb6d2"/>
<rect x="194.3" y="329.29" width="18.0" height="3.82" fill="#e1ddd5"/>
<rect x="194.3" y="333.12" width="18.0" height="2.23" fill="#e1ddd5"/>
<rect x="194.3" y="335.35" width="18.0" height="1.59" fill="#94b8bf"/>
<rect x="194.3" y="336.94" width="18.0" height="1.27" fill="#cfb6d2"/>
<rect x="194.3" y="338.22" width="18.0" height="4.46" fill="#f6df9d"/>
<rect x="194.3" y="342.68" width="18.0" height="2.55" fill="#7bcbab"/>
<rect x="194.3" y="345.23" width="18.0" height="2.87" fill="#e1ddd5"/>
<rect x="222.4" y="223.88" width="18.0" height="72.74" fill="#84aec1"/>
<rect x="222.4" y="296.62" width="18.0" height="5.90" fill="#d95b55"/>
<rect x="222.4" y="302.52" width="18.0" height="4.30" fill="#eb8445"/>
<rect x="222.4" y="306.82" width="18.0" height="5.90" fill="#e1ddd5"/>
<rect x="222.4" y="312.72" width="18.0" height="4.78" fill="#cfb6d2"/>
<rect x="222.4" y="317.50" width="18.0" height="3.51" fill="#7bcbab"/>
<rect x="222.4" y="321.01" width="18.0" height="5.74" fill="#b5e5d7"/>
<rect x="222.4" y="326.74" width="18.0" height="2.23" fill="#94b8bf"/>
<rect x="222.4" y="328.98" width="18.0" height="3.19" fill="#e1ddd5"/>
<rect x="222.4" y="332.16" width="18.0" height="3.19" fill="#b1deee"/>
<rect x="222.4" y="335.35" width="18.0" height="2.23" fill="#e9a4a5"/>
<rect x="222.4" y="337.58" width="18.0" height="5.10" fill="#40424f"/>
<rect x="222.4" y="342.68" width="18.0" height="2.87" fill="#487579"/>
<rect x="222.4" y="345.55" width="18.0" height="2.55" fill="#cfb6d2"/>
<rect x="251.5" y="259.23" width="18.0" height="34.36" fill="#84aec1"/>
<rect x="251.5" y="293.59" width="18.0" height="18.81" fill="#d95b55"/>
<rect x="251.5" y="312.40" width="18.0" height="4.14" fill="#40424f"/>
<rect x="251.5" y="316.54" width="18.0" height="1.59" fill="#2f6785"/>
<rect x="251.5" y="318.14" width="18.0" height="3.51" fill="#e1ddd5"/>
<rect x="251.5" y="321.64" width="18.0" height="4.14" fill="#c0b5a3"/>
<rect x="251.5" y="325.79" width="18.0" height="2.55" fill="#f6df9d"/>
<rect x="251.5" y="328.34" width="18.0" height="3.83" fill="#b1deee"/>
<rect x="251.5" y="332.16" width="18.0" height="0.96" fill="#f4bf9e"/>
<rect x="251.5" y="333.12" width="18.0" height="4.46" fill="#979aa6"/>
<rect x="251.5" y="337.58" width="18.0" height="2.55" fill="#f0c049"/>
<rect x="251.5" y="340.13" width="18.0" height="3.83" fill="#e1ddd5"/>
<rect x="251.5" y="343.96" width="18.0" height="1.27" fill="#b1deee"/>
<rect x="251.5" y="345.23" width="18.0" height="2.87" fill="#a072a4"/>
<rect x="279.6" y="297.83" width="18.0" height="11.44" fill="#84aec1"/>
<rect x="279.6" y="309.28" width="18.0" height="11.25" fill="#d95b55"/>
<rect x="279.6" y="320.53" width="18.0" height="1.43" fill="#40424f"/>
<rect x="279.6" y="321.96" width="18.0" height="1.28" fill="#e1ddd5"/>
<rect x="279.6" y="323.24" width="18.0" height="7.49" fill="#c0b5a3"/>
<rect x="279.6" y="330.73" width="18.0" height="1.28" fill="#f6df9d"/>
<rect x="279.6" y="332.00" width="18.0" height="2.23" fill="#f4bf9e"/>
<rect x="279.6" y="334.23" width="18.0" height="2.23" fill="#b5e5d7"/>
<rect x="279.6" y="336.47" width="18.0" height="2.55" fill="#e1ddd5"/>
<rect x="279.6" y="339.02" width="18.0" height="3.83" fill="#94b8bf"/>
<rect x="279.6" y="342.84" width="18.0" height="1.59" fill="#c0b5a3"/>
<rect x="279.6" y="344.43" width="18.0" height="3.67" fill="#f6df9d"/>
<rect x="308.6" y="286.58" width="18.0" height="9.02" fill="#84aec1"/>
<rect x="308.6" y="295.60" width="18.0" height="5.64" fill="#d95b55"/>
<rect x="308.6" y="301.24" width="18.0" height="12.53" fill="#40424f"/>
<rect x="308.6" y="313.77" width="18.0" height="2.77" fill="#eb8445"/>
<rect x="308.6" y="316.54" width="18.0" height="0.96" fill="#e1ddd5"/>
<rect x="308.6" y="317.50" width="18.0" height="6.06" fill="#c0b5a3"/>
<rect x="308.6" y="323.56" width="18.0" height="3.51" fill="#94b8bf"/>
<rect x="308.6" y="327.06" width="18.0" height="3.19" fill="#b1deee"/>
<rect x="308.6" y="330.25" width="18.0" height="4.46" fill="#f0c049"/>
<rect x="308.6" y="334.71" width="18.0" height="2.23" fill="#b1deee"/>
<rect x="308.6" y="336.94" width="18.0" height="1.91" fill="#e9a4a5"/>
<rect x="308.6" y="338.86" width="18.0" height="3.19" fill="#979aa6"/>
<rect x="308.6" y="342.04" width="18.0" height="1.27" fill="#94b8bf"/>
<rect x="308.6" y="343.32" width="18.0" height="3.83" fill="#e1ddd5"/>
<rect x="308.6" y="347.14" width="18.0" height="0.96" fill="#b1deee"/>
<rect x="337.6" y="297.74" width="18.0" height="2.36" fill="#84aec1"/>
<rect x="337.6" y="300.10" width="18.0" height="1.15" fill="#a072a4"/>
<rect x="337.6" y="301.24" width="18.0" height="1.59" fill="#d95b55"/>
<rect x="337.6" y="302.84" width="18.0" height="14.66" fill="#40424f"/>
<rect x="337.6" y="317.50" width="18.0" height="5.10" fill="#eb8445"/>
<rect x="337.6" y="322.60" width="18.0" height="3.19" fill="#c0b5a3"/>
<rect x="337.6" y="325.79" width="18.0" height="3.19" fill="#b1deee"/>
<rect x="337.6" y="328.98" width="18.0" height="3.19" fill="#7bcbab"/>
<rect x="337.6" y="332.16" width="18.0" height="1.59" fill="#f4bf9e"/>
<rect x="337.6" y="333.76" width="18.0" height="1.59" fill="#979aa6"/>
<rect x="337.6" y="335.35" width="18.0" height="1.91" fill="#e1ddd5"/>
<rect x="337.6" y="337.26" width="18.0" height="0.96" fill="#f0c049"/>
<rect x="337.6" y="338.22" width="18.0" height="1.59" fill="#b5e5d7"/>
<rect x="337.6" y="339.81" width="18.0" height="2.23" fill="#b1deee"/>
<rect x="337.6" y="342.04" width="18.0" height="1.59" fill="#a072a4"/>
<rect x="337.6" y="343.64" width="18.0" height="4.46" fill="#84aec1"/>
<rect x="365.7" y="205.08" width="18.0" height="0.54" fill="#84aec1"/>
<rect x="365.7" y="205.62" width="18.0" height="80.01" fill="#d95b55"/>
<rect x="365.7" y="285.62" width="18.0" height="9.24" fill="#40424f"/>
<rect x="365.7" y="294.87" width="18.0" height="7.97" fill="#eb8445"/>
<rect x="365.7" y="302.84" width="18.0" height="2.23" fill="#e1ddd5"/>
<rect x="365.7" y="305.07" width="18.0" height="2.23" fill="#c0b5a3"/>
<rect x="365.7" y="307.30" width="18.0" height="1.91" fill="#cfb6d2"/>
<rect x="365.7" y="309.21" width="18.0" height="1.91" fill="#a072a4"/>
<rect x="365.7" y="311.12" width="18.0" height="2.23" fill="#e1ddd5"/>
<rect x="365.7" y="313.36" width="18.0" height="6.06" fill="#7bcbab"/>
<rect x="365.7" y="319.41" width="18.0" height="2.55" fill="#b1deee"/>
<rect x="365.7" y="321.96" width="18.0" height="2.87" fill="#94b8bf"/>
<rect x="365.7" y="324.83" width="18.0" height="2.55" fill="#e1ddd5"/>
<rect x="365.7" y="327.38" width="18.0" height="4.46" fill="#e9a4a5"/>
<rect x="365.7" y="331.84" width="18.0" height="3.83" fill="#84aec1"/>
<rect x="365.7" y="335.67" width="18.0" height="3.19" fill="#cfb6d2"/>
<rect x="365.7" y="338.86" width="18.0" height="3.19" fill="#e1ddd5"/>
<rect x="365.7" y="342.04" width="18.0" height="3.82" fill="#b5e5d7"/>
<rect x="365.7" y="345.87" width="18.0" height="0.96" fill="#cfb6d2"/>
<rect x="365.7" y="346.83" width="18.0" height="1.27" fill="#c0b5a3"/>
<rect x="394.8" y="279.66" width="18.0" height="9.59" fill="#84aec1"/>
<rect x="394.8" y="289.26" width="18.0" height="9.18" fill="#d95b55"/>
<rect x="394.8" y="298.44" width="18.0" height="7.36" fill="#40424f"/>
<rect x="394.8" y="305.80" width="18.0" height="6.92" fill="#eb8445"/>
<rect x="394.8" y="312.72" width="18.0" height="0.96" fill="#e1ddd5"/>
<rect x="394.8" y="313.68" width="18.0" height="7.97" fill="#a072a4"/>
<rect x="394.8" y="321.64" width="18.0" height="3.51" fill="#94b8bf"/>
<rect x="394.8" y="325.15" width="18.0" height="1.59" fill="#e1ddd5"/>
<rect x="394.8" y="326.74" width="18.0" height="2.55" fill="#b5e5d7"/>
<rect x="394.8" y="329.29" width="18.0" height="1.27" fill="#c0b5a3"/>
<rect x="394.8" y="330.57" width="18.0" height="1.59" fill="#b1deee"/>
<rect x="394.8" y="332.16" width="18.0" height="2.55" fill="#a072a4"/>
<rect x="394.8" y="334.71" width="18.0" height="1.28" fill="#e1ddd5"/>
<rect x="394.8" y="335.99" width="18.0" height="3.19" fill="#e9a4a5"/>
<rect x="394.8" y="339.18" width="18.0" height="2.23" fill="#84aec1"/>
<rect x="394.8" y="341.41" width="18.0" height="2.55" fill="#f4bf9e"/>
<rect x="394.8" y="343.96" width="18.0" height="1.27" fill="#b5e5d7"/>
<rect x="394.8" y="345.23" width="18.0" height="2.87" fill="#e1ddd5"/>
<rect x="422.9" y="196.50" width="18.0" height="3.86" fill="#84aec1"/>
<rect x="422.9" y="200.36" width="18.0" height="101.20" fill="#40424f"/>
<rect x="422.9" y="301.56" width="18.0" height="8.73" fill="#eb8445"/>
<rect x="422.9" y="310.30" width="18.0" height="1.63" fill="#487579"/>
<rect x="422.9" y="311.92" width="18.0" height="1.43" fill="#e1ddd5"/>
<rect x="422.9" y="313.36" width="18.0" height="7.01" fill="#c0b5a3"/>
<rect x="422.9" y="320.37" width="18.0" height="6.38" fill="#a072a4"/>
<rect x="422.9" y="326.74" width="18.0" height="2.87" fill="#7bcbab"/>
<rect x="422.9" y="329.61" width="18.0" height="3.82" fill="#b5e5d7"/>
<rect x="422.9" y="333.44" width="18.0" height="3.83" fill="#b5e5d7"/>
<rect x="422.9" y="337.26" width="18.0" height="1.27" fill="#b1deee"/>
<rect x="422.9" y="338.54" width="18.0" height="1.27" fill="#a072a4"/>
<rect x="422.9" y="339.81" width="18.0" height="2.23" fill="#e9a4a5"/>
<rect x="422.9" y="342.04" width="18.0" height="1.59" fill="#f4bf9e"/>
<rect x="422.9" y="343.64" width="18.0" height="1.91" fill="#cfb6d2"/>
<rect x="422.9" y="345.55" width="18.0" height="1.59" fill="#b5e5d7"/>
<rect x="422.9" y="347.14" width="18.0" height="0.96" fill="#e1ddd5"/>
<rect x="451.9" y="280.52" width="18.0" height="4.14" fill="#84aec1"/>
<rect x="451.9" y="284.67" width="18.0" height="4.94" fill="#40424f"/>
<rect x="451.9" y="289.61" width="18.0" height="18.65" fill="#eb8445"/>
<rect x="451.9" y="308.26" width="18.0" height="2.23" fill="#40424f"/>
<rect x="451.9" y="310.49" width="18.0" height="1.91" fill="#e1ddd5"/>
<rect x="451.9" y="312.40" width="18.0" height="5.42" fill="#a072a4"/>
<rect x="451.9" y="317.82" width="18.0" height="2.23" fill="#b5e5d7"/>
<rect x="451.9" y="320.05" width="18.0" height="3.82" fill="#94b8bf"/>
<rect x="451.9" y="323.88" width="18.0" height="4.46" fill="#e1ddd5"/>
<rect x="451.9" y="328.34" width="18.0" height="5.74" fill="#487579"/>
<rect x="451.9" y="334.08" width="18.0" height="1.27" fill="#e9a4a5"/>
<rect x="451.9" y="335.35" width="18.0" height="4.46" fill="#f6df9d"/>
<rect x="451.9" y="339.81" width="18.0" height="1.59" fill="#cfb6d2"/>
<rect x="451.9" y="341.41" width="18.0" height="1.91" fill="#b5e5d7"/>
<rect x="451.9" y="343.32" width="18.0" height="1.91" fill="#b5e5d7"/>
<rect x="451.9" y="345.23" width="18.0" height="1.91" fill="#e1ddd5"/>
<rect x="451.9" y="347.14" width="18.0" height="0.96" fill="#c0b5a3"/>
<rect x="481.0" y="263.76" width="18.0" height="14.85" fill="#84aec1"/>
<rect x="481.0" y="278.61" width="18.0" height="5.10" fill="#d95b55"/>
<rect x="481.0" y="283.71" width="18.0" height="5.90" fill="#eb8445"/>
<rect x="481.0" y="289.61" width="18.0" height="3.35" fill="#2f6785"/>
<rect x="481.0" y="292.96" width="18.0" height="27.73" fill="#e1ddd5"/>
<rect x="481.0" y="320.69" width="18.0" height="3.51" fill="#a072a4"/>
<rect x="481.0" y="324.19" width="18.0" height="3.83" fill="#c0b5a3"/>
<rect x="481.0" y="328.02" width="18.0" height="0.96" fill="#a072a4"/>
<rect x="481.0" y="328.98" width="18.0" height="2.23" fill="#e1ddd5"/>
<rect x="481.0" y="331.21" width="18.0" height="2.23" fill="#f6df9d"/>
<rect x="481.0" y="333.44" width="18.0" height="2.55" fill="#f4bf9e"/>
<rect x="481.0" y="335.99" width="18.0" height="2.55" fill="#b5e5d7"/>
<rect x="481.0" y="338.54" width="18.0" height="1.27" fill="#b5e5d7"/>
<rect x="481.0" y="339.81" width="18.0" height="1.27" fill="#e1ddd5"/>
<rect x="481.0" y="341.09" width="18.0" height="3.83" fill="#94b8bf"/>
<rect x="481.0" y="344.91" width="18.0" height="3.19" fill="#cfb6d2"/>
<rect x="508.1" y="283.71" width="18.0" height="2.23" fill="#84aec1"/>
<rect x="508.1" y="285.94" width="18.0" height="1.27" fill="#a072a4"/>
<rect x="508.1" y="287.22" width="18.0" height="1.59" fill="#d95b55"/>
<rect x="508.1" y="288.81" width="18.0" height="9.24" fill="#eb8445"/>
<rect x="508.1" y="298.06" width="18.0" height="6.82" fill="#2f6785"/>
<rect x="508.1" y="304.88" width="18.0" height="6.88" fill="#e1ddd5"/>
<rect x="508.1" y="311.76" width="18.0" height="5.74" fill="#c0b5a3"/>
<rect x="508.1" y="317.50" width="18.0" height="4.62" fill="#a072a4"/>
<rect x="508.1" y="322.12" width="18.0" height="0.96" fill="#b5e5d7"/>
<rect x="508.1" y="323.08" width="18.0" height="2.55" fill="#a072a4"/>
<rect x="508.1" y="325.63" width="18.0" height="1.27" fill="#e1ddd5"/>
<rect x="508.1" y="326.90" width="18.0" height="1.91" fill="#f6df9d"/>
<rect x="508.1" y="328.82" width="18.0" height="1.59" fill="#487579"/>
<rect x="508.1" y="330.41" width="18.0" height="2.55" fill="#b5e5d7"/>
<rect x="508.1" y="332.96" width="18.0" height="3.19" fill="#e1ddd5"/>
<rect x="508.1" y="336.15" width="18.0" height="3.19" fill="#c0b5a3"/>
<rect x="508.1" y="339.33" width="18.0" height="1.59" fill="#f6df9d"/>
<rect x="508.1" y="340.93" width="18.0" height="1.59" fill="#b1deee"/>
<rect x="508.1" y="342.52" width="18.0" height="1.59" fill="#e9a4a5"/>
<rect x="508.1" y="344.12" width="18.0" height="1.59" fill="#979aa6"/>
<rect x="508.1" y="345.71" width="18.0" height="2.39" fill="#94b8bf"/>
<rect x="537.2" y="274.88" width="18.0" height="5.64" fill="#84aec1"/>
<rect x="537.2" y="280.52" width="18.0" height="6.06" fill="#d95b55"/>
<rect x="537.2" y="286.58" width="18.0" height="9.69" fill="#eb8445"/>
<rect x="537.2" y="296.27" width="18.0" height="4.43" fill="#2f6785"/>
<rect x="537.2" y="300.70" width="18.0" height="3.41" fill="#e1ddd5"/>
<rect x="537.2" y="304.11" width="18.0" height="4.14" fill="#c0b5a3"/>
<rect x="537.2" y="308.26" width="18.0" height="3.51" fill="#b5e5d7"/>
<rect x="537.2" y="311.76" width="18.0" height="2.55" fill="#7bcbab"/>
<rect x="537.2" y="314.31" width="18.0" height="8.61" fill="#f6df9d"/>
<rect x="537.2" y="322.92" width="18.0" height="6.06" fill="#94b8bf"/>
<rect x="537.2" y="328.98" width="18.0" height="4.14" fill="#f0c049"/>
<rect x="537.2" y="333.12" width="18.0" height="1.59" fill="#e1ddd5"/>
<rect x="537.2" y="334.71" width="18.0" height="7.33" fill="#b1deee"/>
<rect x="537.2" y="342.04" width="18.0" height="4.46" fill="#b1deee"/>
<rect x="537.2" y="346.51" width="18.0" height="1.59" fill="#a072a4"/>
<rect x="565.3" y="287.92" width="18.0" height="8.64" fill="#84aec1"/>
<rect x="565.3" y="296.56" width="18.0" height="7.55" fill="#d95b55"/>
<rect x="565.3" y="304.11" width="18.0" height="2.71" fill="#40424f"/>
<rect x="565.3" y="306.82" width="18.0" height="10.36" fill="#eb8445"/>
<rect x="565.3" y="317.18" width="18.0" height="2.71" fill="#e1ddd5"/>
<rect x="565.3" y="319.89" width="18.0" height="4.46" fill="#c0b5a3"/>
<rect x="565.3" y="324.35" width="18.0" height="1.28" fill="#487579"/>
<rect x="565.3" y="325.63" width="18.0" height="3.19" fill="#b5e5d7"/>
<rect x="565.3" y="328.82" width="18.0" height="1.91" fill="#e1ddd5"/>
<rect x="565.3" y="330.73" width="18.0" height="2.23" fill="#b5e5d7"/>
<rect x="565.3" y="332.96" width="18.0" height="2.23" fill="#e1ddd5"/>
<rect x="565.3" y="335.19" width="18.0" height="2.55" fill="#94b8bf"/>
<rect x="565.3" y="337.74" width="18.0" height="4.46" fill="#c0b5a3"/>
<rect x="565.3" y="342.20" width="18.0" height="1.59" fill="#e9a4a5"/>
<rect x="565.3" y="343.80" width="18.0" height="2.55" fill="#7bcbab"/>
<rect x="565.3" y="346.35" width="18.0" height="1.75" fill="#e1ddd5"/>
<rect x="594.3" y="238.23" width="18.0" height="26.36" fill="#84aec1"/>
<rect x="594.3" y="264.59" width="18.0" height="7.01" fill="#d95b55"/>
<rect x="594.3" y="271.60" width="18.0" height="7.46" fill="#40424f"/>
<rect x="594.3" y="279.06" width="18.0" height="17.50" fill="#eb8445"/>
<rect x="594.3" y="296.56" width="18.0" height="1.94" fill="#2f6785"/>
<rect x="594.3" y="298.50" width="18.0" height="2.74" fill="#e1ddd5"/>
<rect x="594.3" y="301.24" width="18.0" height="11.95" fill="#c0b5a3"/>
<rect x="594.3" y="313.20" width="18.0" height="11.12" fill="#cfb6d2"/>
<rect x="594.3" y="324.32" width="18.0" height="4.65" fill="#7bcbab"/>
<rect x="594.3" y="328.98" width="18.0" height="1.59" fill="#b1deee"/>
<rect x="594.3" y="330.57" width="18.0" height="6.38" fill="#f6df9d"/>
<rect x="594.3" y="336.94" width="18.0" height="4.46" fill="#b5e5d7"/>
<rect x="594.3" y="341.41" width="18.0" height="4.46" fill="#e1ddd5"/>
<rect x="594.3" y="345.87" width="18.0" height="2.23" fill="#b5e5d7"/>
<rect x="622.4" y="249.93" width="18.0" height="0.96" fill="#84aec1"/>
<rect x="622.4" y="250.88" width="18.0" height="0.96" fill="#a072a4"/>
<rect x="622.4" y="251.84" width="18.0" height="5.10" fill="#d95b55"/>
<rect x="622.4" y="256.94" width="18.0" height="4.14" fill="#40424f"/>
<rect x="622.4" y="261.08" width="18.0" height="0.80" fill="#eb8445"/>
<rect x="622.4" y="261.88" width="18.0" height="45.49" fill="#2f6785"/>
<rect x="622.4" y="307.36" width="18.0" height="2.17" fill="#e1ddd5"/>
<rect x="622.4" y="309.53" width="18.0" height="5.74" fill="#c0b5a3"/>
<rect x="622.4" y="315.27" width="18.0" height="6.38" fill="#cfb6d2"/>
<rect x="622.4" y="321.64" width="18.0" height="3.19" fill="#7bcbab"/>
<rect x="622.4" y="324.83" width="18.0" height="0.64" fill="#94b8bf"/>
<rect x="622.4" y="325.47" width="18.0" height="10.52" fill="#f6df9d"/>
<rect x="622.4" y="335.99" width="18.0" height="3.82" fill="#e1ddd5"/>
<rect x="622.4" y="339.81" width="18.0" height="0.96" fill="#b5e5d7"/>
<rect x="622.4" y="340.77" width="18.0" height="1.59" fill="#e1ddd5"/>
<rect x="622.4" y="342.36" width="18.0" height="3.82" fill="#94b8bf"/>
<rect x="622.4" y="346.19" width="18.0" height="1.91" fill="#cfb6d2"/>
<rect x="651.5" y="270.96" width="18.0" height="9.56" fill="#84aec1"/>
<rect x="651.5" y="280.52" width="18.0" height="4.91" fill="#d95b55"/>
<rect x="651.5" y="285.43" width="18.0" height="15.81" fill="#40424f"/>
<rect x="651.5" y="301.24" width="18.0" height="1.43" fill="#eb8445"/>
<rect x="651.5" y="302.68" width="18.0" height="10.36" fill="#2f6785"/>
<rect x="651.5" y="313.04" width="18.0" height="2.23" fill="#e1ddd5"/>
<rect x="651.5" y="315.27" width="18.0" height="3.51" fill="#c0b5a3"/>
<rect x="651.5" y="318.77" width="18.0" height="6.06" fill="#a072a4"/>
<rect x="651.5" y="324.83" width="18.0" height="4.46" fill="#979aa6"/>
<rect x="651.5" y="329.29" width="18.0" height="1.27" fill="#94b8bf"/>
<rect x="651.5" y="330.57" width="18.0" height="1.91" fill="#e1ddd5"/>
<rect x="651.5" y="332.48" width="18.0" height="2.23" fill="#b5e5d7"/>
<rect x="651.5" y="334.71" width="18.0" height="1.28" fill="#c0b5a3"/>
<rect x="651.5" y="335.99" width="18.0" height="4.46" fill="#e1ddd5"/>
<rect x="651.5" y="340.45" width="18.0" height="1.27" fill="#e9a4a5"/>
<rect x="651.5" y="341.73" width="18.0" height="2.55" fill="#f4bf9e"/>
<rect x="651.5" y="344.27" width="18.0" height="2.23" fill="#cfb6d2"/>
<rect x="651.5" y="346.51" width="18.0" height="1.59" fill="#e1ddd5"/>
<rect x="680.5" y="289.32" width="18.0" height="21.17" fill="#84aec1"/>
<rect x="680.5" y="310.49" width="18.0" height="1.27" fill="#d95b55"/>
<rect x="680.5" y="311.76" width="18.0" height="8.92" fill="#40424f"/>
<rect x="680.5" y="320.69" width="18.0" height="4.78" fill="#eb8445"/>
<rect x="680.5" y="325.47" width="18.0" height="1.91" fill="#c0b5a3"/>
<rect x="680.5" y="327.38" width="18.0" height="4.46" fill="#a072a4"/>
<rect x="680.5" y="331.84" width="18.0" height="3.83" fill="#e1ddd5"/>
<rect x="680.5" y="335.67" width="18.0" height="3.19" fill="#e9a4a5"/>
<rect x="680.5" y="338.86" width="18.0" height="3.19" fill="#84aec1"/>
<rect x="680.5" y="342.04" width="18.0" height="2.55" fill="#cfb6d2"/>
<rect x="680.5" y="344.59" width="18.0" height="1.91" fill="#487579"/>
<rect x="680.5" y="346.51" width="18.0" height="1.59" fill="#b5e5d7"/>
<rect x="708.6" y="112.38" width="18.0" height="62.51" fill="#84aec1"/>
<rect x="708.6" y="174.89" width="18.0" height="131.13" fill="#d95b55"/>
<rect x="708.6" y="306.02" width="18.0" height="4.46" fill="#40424f"/>
<rect x="708.6" y="310.49" width="18.0" height="7.01" fill="#eb8445"/>
<rect x="708.6" y="317.50" width="18.0" height="3.83" fill="#2f6785"/>
<rect x="708.6" y="321.33" width="18.0" height="4.14" fill="#e1ddd5"/>
<rect x="708.6" y="325.47" width="18.0" height="6.38" fill="#b5e5d7"/>
<rect x="708.6" y="331.84" width="18.0" height="2.23" fill="#84aec1"/>
<rect x="708.6" y="334.08" width="18.0" height="1.59" fill="#f6df9d"/>
<rect x="708.6" y="335.67" width="18.0" height="1.59" fill="#cfb6d2"/>
<rect x="708.6" y="337.26" width="18.0" height="1.59" fill="#b5e5d7"/>
<rect x="708.6" y="338.86" width="18.0" height="1.91" fill="#e1ddd5"/>
<rect x="708.6" y="340.77" width="18.0" height="3.19" fill="#94b8bf"/>
<rect x="708.6" y="343.96" width="18.0" height="1.59" fill="#f6df9d"/>
<rect x="708.6" y="345.55" width="18.0" height="1.59" fill="#b1deee"/>
<rect x="708.6" y="347.14" width="18.0" height="0.96" fill="#f4bf9e"/>
<rect x="737.7" y="298.76" width="18.0" height="8.61" fill="#84aec1"/>
<rect x="737.7" y="307.36" width="18.0" height="4.46" fill="#40424f"/>
<rect x="737.7" y="311.83" width="18.0" height="8.86" fill="#eb8445"/>
<rect x="737.7" y="320.69" width="18.0" height="2.87" fill="#e1ddd5"/>
<rect x="737.7" y="323.56" width="18.0" height="2.71" fill="#a072a4"/>
<rect x="737.7" y="326.27" width="18.0" height="1.43" fill="#94b8bf"/>
<rect x="737.7" y="327.70" width="18.0" height="5.58" fill="#b5e5d7"/>
<rect x="737.7" y="333.28" width="18.0" height="4.94" fill="#e1ddd5"/>
<rect x="737.7" y="338.22" width="18.0" height="4.78" fill="#cfb6d2"/>
<rect x="737.7" y="343.00" width="18.0" height="3.19" fill="#979aa6"/>
<rect x="737.7" y="346.19" width="18.0" height="1.91" fill="#e1ddd5"/>
<rect x="765.8" y="275.74" width="18.0" height="1.12" fill="#84aec1"/>
<rect x="765.8" y="276.86" width="18.0" height="30.25" fill="#40424f"/>
<rect x="765.8" y="307.11" width="18.0" height="11.67" fill="#eb8445"/>
<rect x="765.8" y="318.77" width="18.0" height="1.91" fill="#e1ddd5"/>
<rect x="765.8" y="320.69" width="18.0" height="4.78" fill="#a072a4"/>
<rect x="765.8" y="325.47" width="18.0" height="2.55" fill="#94b8bf"/>
<rect x="765.8" y="328.02" width="18.0" height="2.55" fill="#cfb6d2"/>
<rect x="765.8" y="330.57" width="18.0" height="3.83" fill="#b1deee"/>
<rect x="765.8" y="334.39" width="18.0" height="3.19" fill="#e9a4a5"/>
<rect x="765.8" y="337.58" width="18.0" height="4.46" fill="#f4bf9e"/>
<rect x="765.8" y="342.04" width="18.0" height="4.46" fill="#e1ddd5"/>
<rect x="765.8" y="346.51" width="18.0" height="1.59" fill="#f0c049"/>
<path d="M110.0 348.50H783.8" stroke="#6e7079" stroke-width="1"/>
<path d="M119.50 348.50v5.5" stroke="#6e7079" stroke-width="1"/>
<text x="119.00" y="366.40" font-size="12" text-anchor="middle" fill="#6e7079" font-weight="700">2023</text>
<path d="M203.50 348.50v5.5" stroke="#6e7079" stroke-width="1"/>
<text x="203.31" y="366.40" font-size="12" text-anchor="middle" fill="#6e7079">Apr</text>
<path d="M288.50 348.50v5.5" stroke="#6e7079" stroke-width="1"/>
<text x="288.56" y="366.40" font-size="12" text-anchor="middle" fill="#6e7079">Jul</text>
<path d="M374.50 348.50v5.5" stroke="#6e7079" stroke-width="1"/>
<text x="374.75" y="366.40" font-size="12" text-anchor="middle" fill="#6e7079">Oct</text>
<path d="M460.50 348.50v5.5" stroke="#6e7079" stroke-width="1"/>
<text x="460.93" y="366.40" font-size="12" text-anchor="middle" fill="#6e7079" font-weight="700">2024</text>
<path d="M546.50 348.50v5.5" stroke="#6e7079" stroke-width="1"/>
<text x="546.18" y="366.40" font-size="12" text-anchor="middle" fill="#6e7079">Apr</text>
<path d="M631.50 348.50v5.5" stroke="#6e7079" stroke-width="1"/>
<text x="631.43" y="366.40" font-size="12" text-anchor="middle" fill="#6e7079">Jul</text>
<path d="M717.50 348.50v5.5" stroke="#6e7079" stroke-width="1"/>
<text x="717.62" y="366.40" font-size="12" text-anchor="middle" fill="#6e7079">Oct</text>
<clipPath id="lgclip"><rect x="16" y="51" width="592.5999999999999" height="32"/></clipPath>
<g clip-path="url(#lgclip)">
<rect x="21.0" y="60.9" width="24.5" height="13.4" rx="3" fill="#979aa6"/>
<text x="51.2" y="71.3" font-size="12" fill="#333">Parking</text>
<rect x="102.0" y="60.9" width="24.5" height="13.4" rx="3" fill="#979aa6"/>
<text x="132.3" y="71.3" font-size="12" fill="#333">Volleyball</text>
<rect x="192.5" y="60.9" width="24.5" height="13.4" rx="3" fill="#e9a4a5"/>
<text x="222.6" y="71.3" font-size="12" fill="#333">Other Concerts</text>
<rect x="314.2" y="60.9" width="24.5" height="13.4" rx="3" fill="#e9a4a5"/>
<text x="344.0" y="71.3" font-size="12" fill="#333">Lacrosse</text>
<rect x="402.8" y="60.9" width="24.5" height="13.4" rx="3" fill="#b1deee"/>
<text x="432.9" y="71.3" font-size="12" fill="#333">Softball</text>
<rect x="482.6" y="60.9" width="24.5" height="13.4" rx="3" fill="#94b8bf"/>
<text x="512.7" y="71.3" font-size="12" fill="#333">Hockey</text>
<rect x="562.7" y="60.9" width="24.5" height="13.4" rx="3" fill="#c0b5a3"/>
<text x="592.5" y="71.3" font-size="12" fill="#333">Opera</text>
</g>
<path d="M628.2 61.2V74.2L619.5 67.7Z" fill="#aaa"/>
<text x="647.0" y="71.3" font-size="12" text-anchor="middle" fill="#333">1/12</text>
<path d="M665.5 61.2V74.2L674.4 67.7Z" fill="#2f4554"/>
<rect x="684.7" y="58.3" width="24.2" height="18.3" rx="9.15" fill="#fff" stroke="#4a9a52" stroke-width="1"/>
<text x="696.8" y="71.7" font-size="12" text-anchor="middle" fill="#4a9a52">All</text>
<rect x="716.5" y="58.3" width="27.2" height="18.3" rx="9.15" fill="#fff" stroke="#4a9a52" stroke-width="1"/>
<text x="730.1" y="71.7" font-size="12" text-anchor="middle" fill="#4a9a52">Inv</text>
<path d="M755.9 60.7V75.4H767.3V63.5H761.6M752.6 64.3H758.7" fill="none" stroke="#666" stroke-width="1"/>
<path d="M782.3 60.7L779.4 63.5L782.3 66.6M779.4 63.5H791.2V75.4H779.0V68.8" fill="none" stroke="#666" stroke-width="1"/>
<rect x="112.2" y="394.9" width="674.2" height="29.5" fill="#e7eafc"/>
<path d="M493.2 424.4L493.2 418.1L523.2 400.0L552.5 418.1L552.5 424.4Z" fill="#d1d8f9" stroke="none"/>
<path d="M493.2 424.4L493.2 418.1L523.2 400.0L552.5 418.1L552.5 424.4" fill="none" stroke="#b6beec" stroke-width="1" stroke-linejoin="round"/>
<path d="M669.4 424.4L669.4 418.1L698.9 405.3L728.8 418.1L728.8 424.4Z" fill="#d1d8f9" stroke="none"/>
<path d="M669.4 424.4L669.4 418.1L698.9 405.3L728.8 418.1L728.8 424.4" fill="none" stroke="#b6beec" stroke-width="1" stroke-linejoin="round"/>
<rect x="112.2" y="394.9" width="674.2" height="29.5" fill="none" stroke="#d5d9f3" stroke-width="1"/>
<rect x="112.2" y="388.3" width="674.2" height="6.6" fill="#dadef0"/>
<path d="M446.8 390.5v2.4M448.5 390.5v2.4M450.3 391.7h3" stroke="#fff" stroke-width="1" fill="none"/>
<path d="M112.2 394.9V424.4" stroke="#a9b2d2" stroke-width="1"/>
<rect x="109.2" y="400.0" width="6" height="18.6" rx="2" fill="#fff" stroke="#a9b2d2" stroke-width="1"/>
<path d="M786.4 394.9V424.4" stroke="#a9b2d2" stroke-width="1"/>
<rect x="783.4" y="400.0" width="6" height="18.6" rx="2" fill="#fff" stroke="#a9b2d2" stroke-width="1"/></svg></div>
</div></body></html>
